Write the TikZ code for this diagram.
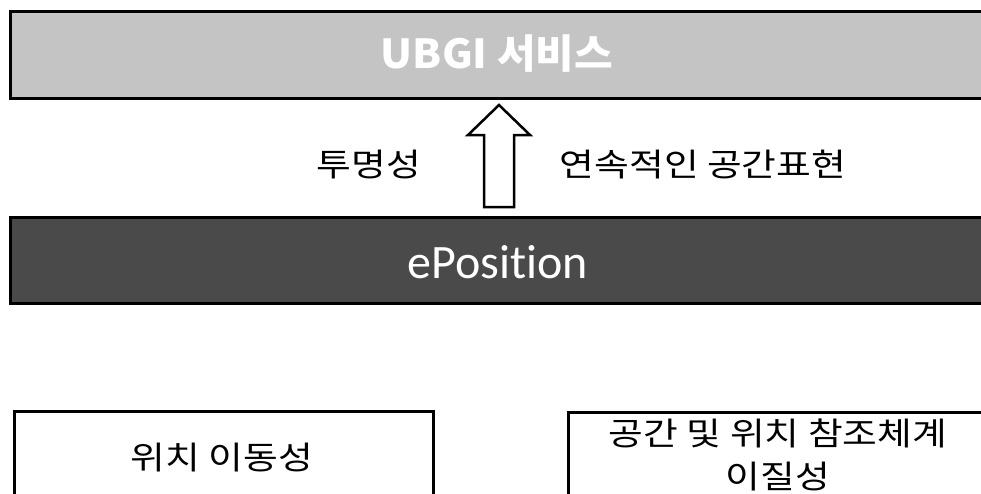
\documentclass[tikz,border=0pt]{standalone}
\usepackage{fontspec}
\newfontfamily\kr{Noto Sans CJK KR}
\newfontfamily\calfont[Ligatures=NoCommon]{Carlito}
\usetikzlibrary{calc}
\definecolor{lightbar}{HTML}{C4C4C4}
\definecolor{darkbar}{HTML}{4A4A4A}
\newcommand{\wide}[1]{\scalebox{1.18}[1]{#1}}
\tikzset{
  bar/.style={draw=black, line width=2.5pt, inner sep=0pt, anchor=north west},
  plainbox/.style={draw=black, line width=2.5pt, fill=white, inner sep=0pt, anchor=north west},
  label/.style={font=\kr\fontsize{32}{36}\selectfont, inner sep=0pt},
  blockarrow/.style={draw=black, line width=2.5pt, fill=white, line join=miter},
}
\begin{document}
\begin{tikzpicture}[x=1pt,y=-1pt]
\useasboundingbox (0,0) rectangle (981,493);
\clip (0,0) rectangle (981,493);
\fill[white] (0,0) rectangle (981,493);
% top bar
\node[bar, fill=lightbar, minimum width=1000pt, minimum height=87pt] (top) at (9,10) {};
\node[font=\kr\bfseries\fontsize{40}{44}\selectfont, text=white, inner sep=0pt] (toptext) at (497,54) {\scalebox{1.05}[1]{UBGI 서비스}};
% middle bar
\node[bar, fill=darkbar, minimum width=1000pt, minimum height=86pt] (mid) at (9,216) {};
\node[font=\calfont\fontsize{48}{52}\selectfont, text=white, inner sep=0pt] (midtext) at (498,262) {ePosition};
% block arrow
\coordinate (abase) at (499,207);
\coordinate (atip) at (499,105);
\draw[blockarrow] ($(abase)+(-15,0)$) -- ($(atip)+(-15,30)$) -- ($(atip)+(-31,30)$) -- (atip)
  -- ($(atip)+(31,30)$) -- ($(atip)+(15,30)$) -- ($(abase)+(15,0)$) -- cycle;
\node[label] (l1) at (369,165) {\wide{투명성}};
\node[label] (l2) at (703,165) {\wide{연속적인 공간표현}};
% bottom boxes
\node[plainbox, minimum width=419pt, minimum height=120pt] (bl) at (13,410) {};
\node[label] (bltext) at (222,458) {\wide{위치 이동성}};
\node[plainbox, minimum width=450pt, minimum height=120pt] (br) at (567,411) {};
\node[label] (brtext1) at (778,433) {\wide{공간 및 위치 참조체계}};
\node[label] (brtext2) at (778,477) {\wide{이질성}};
\end{tikzpicture}
\end{document}
